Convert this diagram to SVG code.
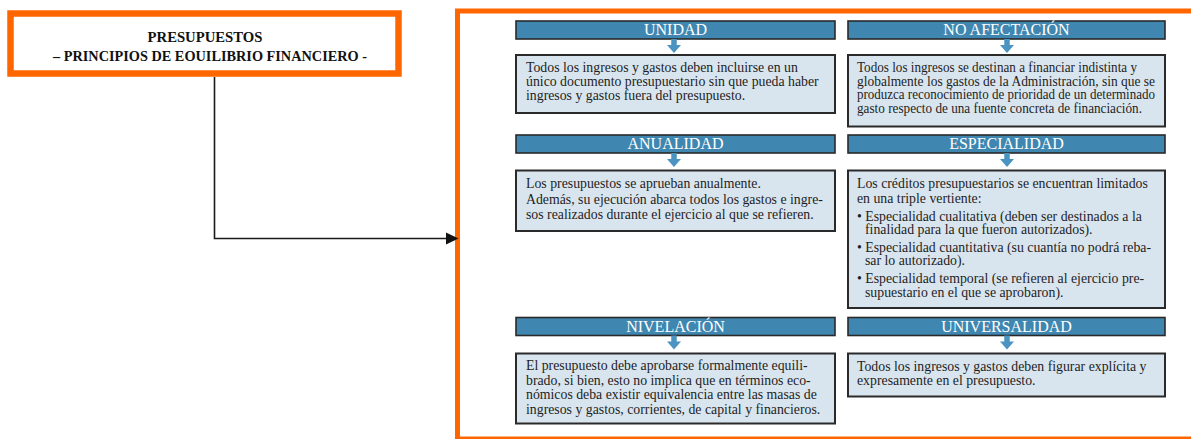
<svg xmlns="http://www.w3.org/2000/svg" width="1191" height="439" viewBox="0 0 1191 439">
<style>
.title{font-family:"Liberation Serif",serif;font-size:14.7px;font-weight:bold;fill:#111;text-anchor:middle}
.hdr{fill:#3f87b0;stroke:#2a2a2a;stroke-width:1.6}
.hdrt{font-family:"Liberation Serif",serif;font-size:16px;fill:#fff;text-anchor:middle}
.box{fill:#d9e5ee;stroke:#2a2a2a;stroke-width:2}
.bt{font-family:"Liberation Serif",serif;font-size:13.8px;fill:#1e1e1e}
.conn{fill:none;stroke:#1a1a1a;stroke-width:1.6}
</style>
<defs>
<path id="darr" d="M-2.75,0 H2.75 V6 H7 L0,14 L-7,6 H-2.75 Z" fill="#4b93c0"/>
</defs>
<rect width="1191" height="439" fill="#fff"/>

<g id="title">
<rect x="10.5" y="13.5" width="388" height="60" fill="#fff" stroke="#ff6600" stroke-width="6.5"/>
<text class="title" x="205" y="41.5">PRESUPUESTOS</text>
<text class="title" x="210" y="61" textLength="314" lengthAdjust="spacingAndGlyphs">– PRINCIPIOS DE EOUILIBRIO FINANCIERO -</text>
</g>

<g id="frame">
<rect x="457.5" y="11" width="800" height="428" fill="none" stroke="#ff6600" stroke-width="5"/>
</g>

<g id="connectors">
<polyline class="conn" points="214.5,77 214.5,238.5 447,238.5"/>
<polygon points="446,232.5 458.5,238.5 446,244.5" fill="#111"/>
</g>

<g id="unidad">
<rect class="hdr" x="516" y="21" width="319" height="18"/>
<text class="hdrt" x="675.5" y="35">UNIDAD</text>
<use href="#darr" x="674" y="39"/>
<rect class="box" x="516" y="55" width="319" height="58"/>
<text class="bt" x="526" y="72">Todos los ingresos y gastos deben incluirse en un</text>
<text class="bt" x="526" y="86">único documento presupuestario sin que pueda haber</text>
<text class="bt" x="526" y="100">ingresos y gastos fuera del presupuesto.</text>
</g>

<g id="no-afectacion">
<rect class="hdr" x="848" y="21" width="317" height="18"/>
<text class="hdrt" x="1006.5" y="35">NO AFECTACIÓN</text>
<use href="#darr" x="1007" y="39"/>
<rect class="box" x="848" y="55" width="317" height="71.5"/>
<text class="bt" x="857" y="72" textLength="280" lengthAdjust="spacingAndGlyphs">Todos los ingresos se destinan a financiar indistinta y</text>
<text class="bt" x="857" y="85.5" textLength="298" lengthAdjust="spacingAndGlyphs">globalmente los gastos de la Administración, sin que se</text>
<text class="bt" x="857" y="99" textLength="298" lengthAdjust="spacingAndGlyphs">produzca reconocimiento de prioridad de un determinado</text>
<text class="bt" x="857" y="112.5" textLength="285" lengthAdjust="spacingAndGlyphs">gasto respecto de una fuente concreta de financiación.</text>
</g>

<g id="anualidad">
<rect class="hdr" x="516" y="135" width="319" height="18"/>
<text class="hdrt" x="675.5" y="149">ANUALIDAD</text>
<use href="#darr" x="674" y="153"/>
<rect class="box" x="516" y="170.5" width="319" height="60.5"/>
<text class="bt" x="526" y="188">Los presupuestos se aprueban anualmente.</text>
<text class="bt" x="526" y="204">Además, su ejecución abarca todos los gastos e ingre-</text>
<text class="bt" x="526" y="219">sos realizados durante el ejercicio al que se refieren.</text>
</g>

<g id="especialidad">
<rect class="hdr" x="848" y="135" width="317" height="18"/>
<text class="hdrt" x="1006.5" y="149">ESPECIALIDAD</text>
<use href="#darr" x="1007" y="153"/>
<rect class="box" x="848" y="170.5" width="317" height="137.5"/>
<text class="bt" x="857" y="187.5">Los créditos presupuestarios se encuentran limitados</text>
<text class="bt" x="857" y="202.5">en una triple vertiente:</text>
<text class="bt" x="857" y="220.5">• Especialidad cualitativa (deben ser destinados a la</text>
<text class="bt" x="865" y="233.5">finalidad para la que fueron autorizados).</text>
<text class="bt" x="857" y="251.5">• Especialidad cuantitativa (su cuantía no podrá reba-</text>
<text class="bt" x="865" y="264.5">sar lo autorizado).</text>
<text class="bt" x="857" y="283">• Especialidad temporal (se refieren al ejercicio pre-</text>
<text class="bt" x="865" y="297">supuestario en el que se aprobaron).</text>
</g>

<g id="nivelacion">
<rect class="hdr" x="516" y="317.5" width="319" height="18"/>
<text class="hdrt" x="675.5" y="331.5">NIVELACIÓN</text>
<use href="#darr" x="674" y="335.5"/>
<rect class="box" x="516" y="353.5" width="319" height="70"/>
<text class="bt" x="526" y="370">El presupuesto debe aprobarse formalmente equili-</text>
<text class="bt" x="526" y="384.5">brado, si bien, esto no implica que en términos eco-</text>
<text class="bt" x="526" y="399">nómicos deba existir equivalencia entre las masas de</text>
<text class="bt" x="526" y="413.5">ingresos y gastos, corrientes, de capital y financieros.</text>
</g>

<g id="universalidad">
<rect class="hdr" x="848" y="317.5" width="317" height="18"/>
<text class="hdrt" x="1006.5" y="331.5">UNIVERSALIDAD</text>
<use href="#darr" x="1007" y="335.5"/>
<rect class="box" x="848" y="353.5" width="317" height="43"/>
<text class="bt" x="857" y="371">Todos los ingresos y gastos deben figurar explícita y</text>
<text class="bt" x="857" y="385">expresamente en el presupuesto.</text>
</g>
</svg>
